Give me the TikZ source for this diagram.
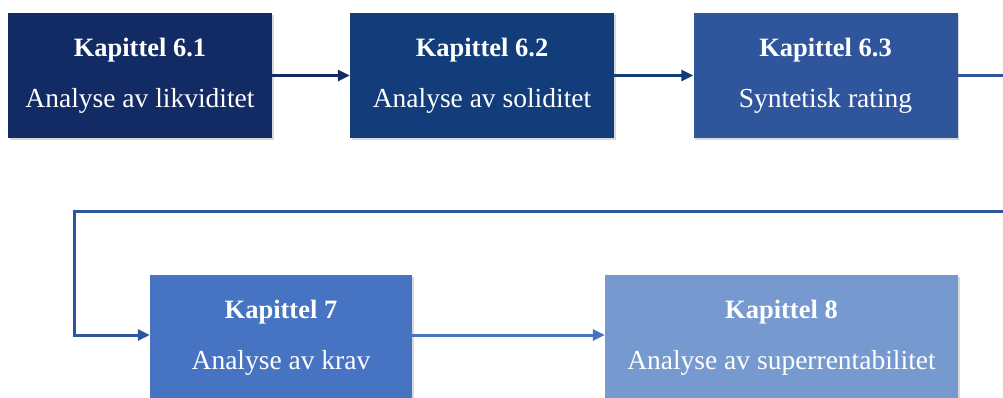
\documentclass[tikz,border=0pt]{standalone}
\usepackage{fontspec}
\setmainfont{Liberation Serif}
\usetikzlibrary{arrows.meta,shadows}
\definecolor{cA}{HTML}{132B65}
\definecolor{cB}{HTML}{123D7A}
\definecolor{cC}{HTML}{2F559D}
\definecolor{cD}{HTML}{4673C2}
\definecolor{cE}{HTML}{769ACF}
\tikzset{
  chapbox/.style={draw=none, fill=#1, minimum width=264pt, minimum height=125pt,
    text=white, align=center, inner sep=0pt,
    font=\fontsize{26.5}{31}\selectfont,
    drop shadow={opacity=0.3, shadow xshift=1.5pt, shadow yshift=-2pt}},
  link/.style={line width=3pt, draw=#1, -{Triangle[length=12pt,width=11pt]}},
  plainlink/.style={line width=3pt, draw=#1}
}
\newcommand{\chaptext}[2]{\textbf{#1}\\[20pt]{\fontsize{27.5}{31}\selectfont #2}}
\begin{document}
\begin{tikzpicture}[x=1pt,y=-1pt]
\useasboundingbox (0,0) rectangle (1003,397);
\begin{scope}
\clip (0,0) rectangle (1003,397);
\node[chapbox=cA] (k61) at (140,75.5) {\chaptext{Kapittel 6.1}{Analyse av likviditet}};
\node[chapbox=cB] (k62) at (482,75.5) {\chaptext{Kapittel 6.2}{Analyse av soliditet}};
\node[chapbox=cC] (k63) at (825.5,75.5) {\chaptext{Kapittel 6.3}{Syntetisk rating}};
\node[chapbox=cD, minimum width=262pt] (k7) at (281,337.5) {\chaptext{Kapittel 7}{Analyse av krav}};
\node[chapbox=cE, minimum width=353pt] (k8) at (781.5,337.5) {\chaptext{Kapittel 8}{Analyse av superrentabilitet}};

\coordinate (r1) at (1010,75.5);
\coordinate (r2) at (1010,211);
\coordinate (l1) at (74,211);
\coordinate (l2) at (74,335);

\draw[link=cA] (k61.east) -- (k62.west);
\draw[link=cB] (k62.east) -- (k63.west);
\draw[plainlink=cC] (k63.east) -- (r1);
\draw[link=cC] (r2) -- (l1) -- (l2) -- (k7.west |- l2);
\draw[link=cD] (k7.east |- l2) -- (k8.west |- l2);
\end{scope}
\end{tikzpicture}
\end{document}
